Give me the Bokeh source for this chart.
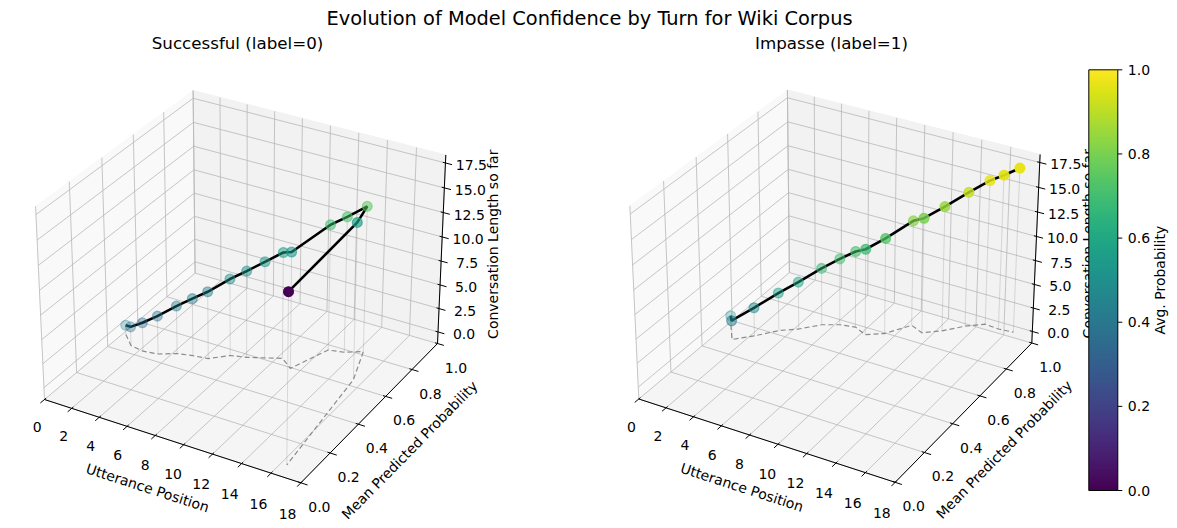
import numpy as np
from bokeh.plotting import figure
from bokeh.models import ColumnDataSource, LinearColorMapper, Range1d
from bokeh.palettes import Viridis256
from bokeh.transform import linear_cmap
from bokeh.core.properties import value
from bokeh.embed import file_html
from bokeh.resources import INLINE

# ---------------- data ----------------
utterance_position = [1, 2, 3, 4, 5, 6, 7, 8, 9, 10, 11, 12, 13, 14, 15, 16, 17]
conversation_length = [1, 2, 3, 4, 5, 6, 7, 8, 9, 10, 11, 12, 13, 14, 15, 16, 17]
prob_successful = [0.434, 0.380, 0.370, 0.380, 0.416, 0.431, 0.441, 0.497, 0.515,
                   0.543, 0.571, 0.528, 0.699, 0.714, 0.751, 0.572, 0.005]
prob_impasse = [0.505, 0.424, 0.484, 0.558, 0.602, 0.668, 0.700, 0.714, 0.686,
                0.727, 0.824, 0.797, 0.844, 0.913, 0.961, 0.955, 0.962]
x_ticks = [0, 2, 4, 6, 8, 10, 12, 14, 16, 18]
y_ticks = [0.0, 0.2, 0.4, 0.6, 0.8, 1.0]
z_ticks = [0.0, 2.5, 5.0, 7.5, 10.0, 12.5, 15.0, 17.5]
cbar_ticks = [0.0, 0.2, 0.4, 0.6, 0.8, 1.0]
panel_titles = ["Successful (label=0)", "Impasse (label=1)"]
suptitle = "Evolution of Model Confidence by Turn for Wiki Corpus"
x_label = "Utterance Position"
y_label = "Mean Predicted Probability"
z_label = "Conversation Length so far"
cbar_label = "Avg. Probability"

XLIM = (0.0, 18.0)
YLIM = (0.0, 1.0)
ZLIM = (-1.25, 18.3)
CLIM = (0.0, 1.0)

FONT = value("DejaVu Sans")

# ---------------- 3D view (matplotlib-like: elev 30, azim -60, persp) --------
BOX = np.array([4.0, 4.0, 3.0])
BOX = BOX * 1.8294640721620434 / np.linalg.norm(BOX)
ELEV, AZIM, DIST = np.radians(30.0), np.radians(-60.0), 10.0
CEN = 0.5 * BOX
W = np.array([np.cos(ELEV) * np.cos(AZIM), np.cos(ELEV) * np.sin(AZIM), np.sin(ELEV)])
EYE = CEN + DIST * W
U = np.cross([0.0, 0.0, 1.0], W)
U = U / np.linalg.norm(U)
V = np.cross(W, U)


def project(x, y, z):
    x, y, z = np.broadcast_arrays(np.asarray(x, float), np.asarray(y, float),
                                  np.asarray(z, float))
    X = (x - XLIM[0]) / (XLIM[1] - XLIM[0]) * BOX[0]
    Y = (y - YLIM[0]) / (YLIM[1] - YLIM[0]) * BOX[1]
    Z = (z - ZLIM[0]) / (ZLIM[1] - ZLIM[0]) * BOX[2]
    q = np.stack([X - EYE[0], Y - EYE[1], Z - EYE[2]], axis=-1)
    su = q @ U
    sv = q @ V
    d = -(q @ W)
    return su / d, sv / d, d


SX0, SY0, _ = project(XLIM[0], YLIM[0], ZLIM[0])
SXR, _, _ = project(XLIM[1], YLIM[1], ZLIM[0])
SCALE = 393.0 / (SXR - SX0)

PANEL_ORIGIN = [(44.0, 399.0), (638.3, 398.5)]   # reference pixel of the left floor corner
W_FIG, H = 1177, 528


def ref_to_canvas(px, py):
    return np.asarray(px, float), float(H) - np.asarray(py, float)


def to_ref(x, y, z, origin):
    sx, sy, d = project(x, y, z)
    px = origin[0] + SCALE * (sx - SX0)
    py = origin[1] - SCALE * (sy - SY0)
    return px, py, d


def to_canvas(x, y, z, origin):
    px, py, d = to_ref(x, y, z, origin)
    cx, cy = ref_to_canvas(px, py)
    return cx, cy, d


p = figure(width=W_FIG, height=H, x_range=Range1d(0, W_FIG), y_range=Range1d(0, H),
           x_axis_location=None, y_axis_location=None, toolbar_location=None,
           output_backend="svg", min_border=0)
p.grid.visible = False
p.outline_line_color = None
p.background_fill_color = "white"
p.border_fill_color = "white"


def seg_lists(starts, ends, origin):
    xs, ys = [], []
    for a, b in zip(starts, ends):
        cx, cy, _ = to_canvas([a[0], b[0]], [a[1], b[1]], [a[2], b[2]], origin)
        xs.append(list(cx))
        ys.append(list(cy))
    return xs, ys


def draw_panel(origin, probs, title, title_x):
    x0, x1 = XLIM
    y0, y1 = YLIM
    z0, z1 = ZLIM
    # panes
    panes = [
        ([x0, x0, x0, x0], [y0, y1, y1, y0], [z0, z0, z1, z1], "#f9f9f9"),
        ([x0, x1, x1, x0], [y1, y1, y1, y1], [z0, z0, z1, z1], "#f2f2f2"),
        ([x0, x1, x1, x0], [y0, y0, y1, y1], [z0, z0, z0, z0], "#f5f5f5"),
    ]
    for xx, yy, zz, col in panes:
        cx, cy, _ = to_canvas(xx, yy, zz, origin)
        p.patch(list(cx), list(cy), fill_color=col, line_color=col, line_width=1)

    # grid lines
    starts, ends = [], []
    for t in x_ticks:
        starts.append((t, y0, z0)); ends.append((t, y1, z0))
        starts.append((t, y1, z0)); ends.append((t, y1, z1))
    for t in y_ticks:
        starts.append((x0, t, z0)); ends.append((x1, t, z0))
        starts.append((x0, t, z0)); ends.append((x0, t, z1))
    for t in z_ticks:
        starts.append((x0, y0, t)); ends.append((x0, y1, t))
        starts.append((x0, y1, t)); ends.append((x1, y1, t))
    gx, gy = seg_lists(starts, ends, origin)
    p.multi_line(gx, gy, line_color="#b8b8b8", line_width=0.8)

    # axis lines
    ax_s = [(x0, y0, z0), (x1, y0, z0), (x1, y1, z0)]
    ax_e = [(x1, y0, z0), (x1, y1, z0), (x1, y1, z1)]
    axx, axy = seg_lists(ax_s, ax_e, origin)
    p.multi_line(axx, axy, line_color="black", line_width=1)

    # ticks
    ty = (y1 - y0)
    tx = (x1 - x0)
    ts, te = [], []
    for t in x_ticks:
        ts.append((t, y0 - 0.025 * ty, z0)); te.append((t, y0 + 0.01 * ty, z0))
    for t in y_ticks:
        ts.append((x1 + 0.025 * tx, t, z0)); te.append((x1 - 0.01 * tx, t, z0))
    for t in z_ticks:
        ts.append((x1 + 0.025 * tx, y1, t)); te.append((x1 - 0.01 * tx, y1, t))
    tkx, tky = seg_lists(ts, te, origin)
    p.multi_line(tkx, tky, line_color="black", line_width=1)

    # tick labels
    lx, ly, lt = [], [], []
    bx, by, _ = to_ref(x_ticks, y0, z0, origin)
    for t, a, b in zip(x_ticks, bx, by):
        f = (t - x0) / (x1 - x0)
        lx.append(a - 7.3 - 6.0 * f); ly.append(b + 27.7 + 3.0 * f); lt.append(f"{t:g}")
    bx, by, _ = to_ref(x1, y_ticks, z0, origin)
    for t, a, b in zip(y_ticks, bx, by):
        lx.append(a + 18.5); ly.append(b + 24.0); lt.append(f"{t:.1f}")
    bx, by, _ = to_ref(x1, y1, z_ticks, origin)
    for t, a, b in zip(z_ticks, bx, by):
        lx.append(a + 26.0); ly.append(b + 2.0); lt.append(f"{t:.1f}")
    cx, cy = ref_to_canvas(lx, ly)
    p.text(x=list(cx), y=list(cy), text=lt, text_font=FONT, text_font_size="14px",
           text_align="center", text_baseline="middle", text_color="black")

    # axis labels
    Lp = to_ref(x0, y0, z0, origin)
    Fp = to_ref(x1, y0, z0, origin)
    Rp = to_ref(x1, y1, z0, origin)
    Tp = to_ref(x1, y1, z1, origin)
    ang_x = np.arctan2(-(Fp[1] - Lp[1]), Fp[0] - Lp[0])
    ang_y = np.arctan2(-(Rp[1] - Fp[1]), Rp[0] - Fp[0])
    mx = ((Lp[0] + Fp[0]) / 2 - 25.0, (Lp[1] + Fp[1]) / 2 + 46.7)
    my = ((Fp[0] + Rp[0]) / 2 + 40.5, (Fp[1] + Rp[1]) / 2 + 36.8)
    mz = ((Rp[0] + Tp[0]) / 2 + 51.7, (Rp[1] + Tp[1]) / 2 - 5.0)
    for (ax_, ay_), txt, ang in [(mx, x_label, ang_x), (my, y_label, ang_y),
                                 (mz, z_label, np.pi / 2)]:
        cx, cy = ref_to_canvas(ax_, ay_)
        p.text(x=[float(cx)], y=[float(cy)], text=[txt], angle=float(ang),
               text_font=FONT, text_font_size="14px", text_align="center",
               text_baseline="middle", text_color="black")

    # ---- data ----
    xs = np.array(utterance_position, float)
    zs = np.array(conversation_length, float)
    ps = np.array(probs, float)
    zero = np.zeros_like(zs)
    # drop lines
    vs = [(a, b, 0.0) for a, b in zip(xs, ps)]
    ve = [(a, b, c) for a, b, c in zip(xs, ps, zs)]
    vx, vy = seg_lists(vs, ve, origin)
    p.multi_line(vx, vy, line_color="gray", line_alpha=0.25, line_width=1)
    # floor projection
    fx, fy, _ = to_canvas(xs, ps, zero, origin)
    p.line(list(fx), list(fy), line_color="gray", line_dash="5 3", line_width=1.2,
           line_alpha=0.9)
    # trajectory
    cx, cy, d = to_canvas(xs, ps, zs, origin)
    p.line(list(cx), list(cy), line_color="black", line_width=2.6)
    # points with depth shading
    alpha = 1.0 - 0.7 * (d - d.min()) / (d.max() - d.min())
    order = np.argsort(-d)
    src = ColumnDataSource(dict(x=cx[order], y=cy[order], prob=ps[order],
                                a=alpha[order]))
    cmap = linear_cmap("prob", Viridis256, CLIM[0], CLIM[1])
    p.scatter("x", "y", source=src, size=9.8, fill_color=cmap, line_color=cmap,
              fill_alpha="a", line_alpha="a", line_width=1.3)

    # subplot title
    tx_, ty_ = ref_to_canvas(title_x, 42.0)
    p.text(x=[float(tx_)], y=[float(ty_)], text=[title], text_font=FONT,
           text_font_size="16.7px", text_align="center", text_baseline="middle",
           text_color="black")


draw_panel(PANEL_ORIGIN[0], prob_successful, panel_titles[0], 237.0)
draw_panel(PANEL_ORIGIN[1], prob_impasse, panel_titles[1], 831.0)

sx_, sy_ = ref_to_canvas(589.0, 18.0)
p.text(x=[float(sx_)], y=[float(sy_)], text=[suptitle], text_font=FONT,
       text_font_size="19.4px", text_align="center", text_baseline="middle",
       text_color="black")

# ---------------- colour bar (drawn over the right panel's z label, as in the reference) ----
CB_LEFT, CB_RIGHT, CB_TOP, CB_BOTTOM = 1088.3, 1117.3, 69.3, 490.0   # reference pixels
bl, bb = ref_to_canvas(CB_LEFT, CB_BOTTOM)
br, bt = ref_to_canvas(CB_RIGHT, CB_TOP)
mapper = LinearColorMapper(palette=Viridis256, low=CLIM[0], high=CLIM[1])
grad = np.linspace(CLIM[0], CLIM[1], 256).reshape(256, 1)
p.image(image=[grad], x=float(bl), y=float(bb), dw=float(br - bl), dh=float(bt - bb),
        color_mapper=mapper)
p.quad(left=[float(bl)], right=[float(br)], bottom=[float(bb)], top=[float(bt)],
       fill_color=None, line_color="black", line_width=1)


def cbar_y(v):
    return float(bb) + (np.asarray(v, float) - CLIM[0]) / (CLIM[1] - CLIM[0]) * float(bt - bb)


cyv = cbar_y(cbar_ticks)
p.multi_line([[float(br), float(br) + 4.5] for _ in cbar_ticks], [[c, c] for c in cyv],
             line_color="black", line_width=1)
p.text(x=[float(br) + 10.0] * len(cbar_ticks), y=list(cyv),
       text=[f"{t:.1f}" for t in cbar_ticks], text_font=FONT, text_font_size="14px",
       text_align="left", text_baseline="middle", text_color="black")
lbx, lby = ref_to_canvas(1159.5, (CB_TOP + CB_BOTTOM) / 2)
p.text(x=[float(lbx)], y=[float(lby)], text=[cbar_label], angle=np.pi / 2,
       text_font=FONT, text_font_size="14px", text_align="center",
       text_baseline="middle", text_color="black")

open("out.html", "w").write(file_html(p, INLINE, title="plot"))
